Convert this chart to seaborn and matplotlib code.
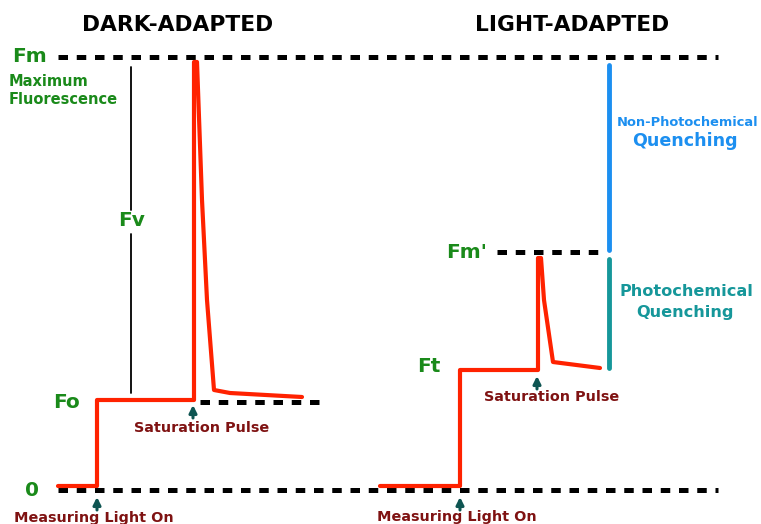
import matplotlib
matplotlib.use('Agg')
import matplotlib.pyplot as plt
import seaborn as sns
import pandas as pd

# ── Diagram geometry (image pixel space, y grows downward) ────────────────────
DARK_X = [58, 97, 97, 194, 194, 197, 202, 207, 214, 230, 302]
DARK_Y = [486, 486, 400, 400, 62, 62, 200, 300, 390, 393, 397]
LIGHT_X = [380, 460, 460, 538, 538, 541, 544, 553, 600]
LIGHT_Y = [486, 486, 370, 370, 258, 258, 300, 362, 368]

# dashed reference levels: (y, x_start, x_end)
LEVEL_NAMES = ['Fm', 'zero', 'Fo', "Fm'"]
LEVEL_Y = [57, 490, 402, 252]
LEVEL_X0 = [58, 58, 200, 497]
LEVEL_X1 = [718, 718, 323, 598]

# arrows: (x, y_tip)
ARROW_X = [97, 193, 460, 537]
ARROW_Y = [497, 405, 497, 376]

RED = '#ff2200'; GREEN = '#1a8a1a'; MAROON = '#7f1212'
BLUE = '#1c8ff0'; TEAL = '#16979a'; ARROW_COL = '#0e5552'

sns.set_theme(style='white')
plt.rcParams['font.family'] = ['DejaVu Sans']

fig = plt.figure(figsize=(7.61, 5.24), dpi=100)
ax = fig.add_axes([0, 0, 1, 1])

# dashed levels
for y, x0, x1 in zip(LEVEL_Y, LEVEL_X0, LEVEL_X1):
    ax.plot([x0, x1], [y, y], color='black', lw=3.6, dashes=(1.9, 1.75),
            solid_capstyle='butt', dash_capstyle='butt', zorder=1)

# fluorescence traces
dark = pd.DataFrame({'x': DARK_X, 'y': DARK_Y})
light = pd.DataFrame({'x': LIGHT_X, 'y': LIGHT_Y})
for d in (dark, light):
    sns.lineplot(data=d, x='x', y='y', sort=False, estimator=None,
                 errorbar=None, color=RED, lw=3, ax=ax, zorder=3)

ax.set_xlim(0, 761)
ax.set_ylim(524, 0)
ax.axis('off')

# Fv bracket line
ax.plot([131, 131], [67, 210], color='black', lw=1.3)
ax.plot([131, 131], [234, 393], color='black', lw=1.3)
# quenching bars
ax.plot([609, 609], [65, 250], color=BLUE, lw=3.5, solid_capstyle='round')
ax.plot([609, 609], [259, 368], color=TEAL, lw=3.5, solid_capstyle='round')

# arrows
for x, y in zip(ARROW_X, ARROW_Y):
    ax.annotate('', xy=(x, y), xytext=(x, y + 13),
                arrowprops=dict(arrowstyle='-|>', color=ARROW_COL, lw=2.2,
                                mutation_scale=11, shrinkA=0, shrinkB=0))

# titles
ax.text(178, 25, 'DARK-ADAPTED', ha='center', va='center', fontsize=15.7,
        fontweight='heavy', color='black')
ax.text(572, 25, 'LIGHT-ADAPTED', ha='center', va='center', fontsize=15.7,
        fontweight='heavy', color='black')

# level labels
big = dict(fontsize=14.5, fontweight='heavy', color=GREEN, va='center')
ax.text(12, 57, 'Fm', ha='left', **big)
ax.text(132, 221, 'Fv', ha='center', **big)
ax.text(53, 402, 'Fo', ha='left', **big)
ax.text(32, 491, '0', ha='center', **big)
ax.text(446, 252, "Fm'", ha='left', **big)
ax.text(417, 366, 'Ft', ha='left', **big)
ax.text(9, 90, 'Maximum\nFluorescence', ha='left', va='center', fontsize=10.5,
        fontweight='heavy', color=GREEN, linespacing=1.25)

# event labels
ev = dict(fontsize=10.4, fontweight='heavy', color=MAROON, ha='center', va='center')
ax.text(202, 428, 'Saturation Pulse', **ev)
ax.text(552, 397, 'Saturation Pulse', **ev)
ax.text(94, 518, 'Measuring Light On', **ev)
ax.text(457, 517, 'Measuring Light On', **ev)

# quenching labels
ax.text(688, 123, 'Non-Photochemical', ha='center', va='center', fontsize=9.4,
        fontweight='heavy', color=BLUE)
ax.text(685, 141, 'Quenching', ha='center', va='center', fontsize=12.6,
        fontweight='heavy', color=BLUE)
ax.text(686, 291, 'Photochemical', ha='center', va='center', fontsize=11.6,
        fontweight='heavy', color=TEAL)
ax.text(685, 313, 'Quenching', ha='center', va='center', fontsize=11.6,
        fontweight='heavy', color=TEAL)

fig.savefig('out.png', dpi=100, facecolor='white')
